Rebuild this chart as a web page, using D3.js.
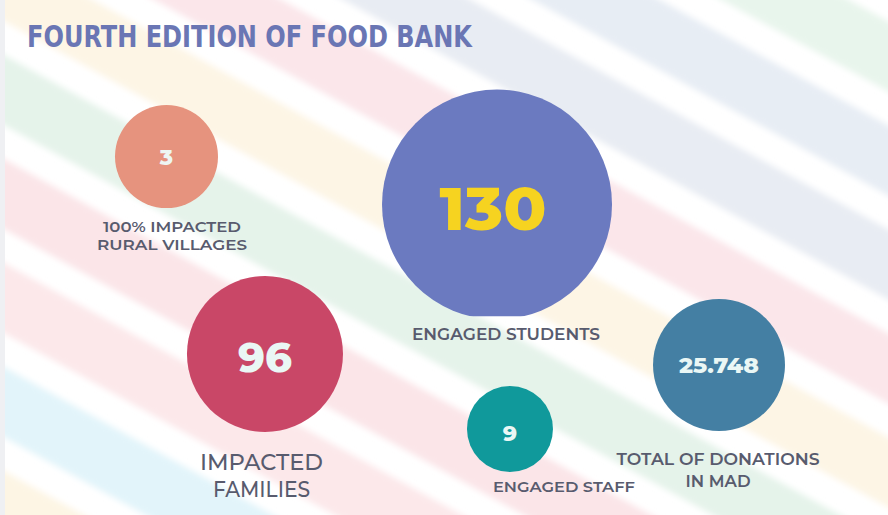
<!DOCTYPE html>
<html>
<head>
<meta charset="utf-8">
<script src="https://cdn.jsdelivr.net/npm/d3@7"></script>
<style>
  html, body { margin: 0; padding: 0; background: #ffffff; }
  svg { display: block; }
</style>
</head>
<body>
<svg id="chart" width="888" height="515"></svg>
<script>
// ---------------- DATA ----------------
const title = "FOURTH EDITION OF FOOD BANK";
const categories = ["100% IMPACTED RURAL VILLAGES", "ENGAGED STUDENTS", "IMPACTED FAMILIES", "ENGAGED STAFF", "TOTAL OF DONATIONS IN MAD"];
const labelLines = [["100% IMPACTED", "RURAL VILLAGES"], ["ENGAGED STUDENTS"], ["IMPACTED", "FAMILIES"], ["ENGAGED STAFF"], ["TOTAL OF DONATIONS", "IN MAD"]];
const values = [3, 130, 96, 9, 25748];
const valueLabels = ["3", "130", "96", "9", "25.748"];

// ---------------- LAYOUT / STYLE ----------------
const W = 888, H = 515;
const bubbleColors = ["#e6937e", "#6b7ac0", "#c94767", "#10999b", "#447fa3"];
const numberColors = ["#eef6f3", "#f6d320", "#eaf7f5", "#eaf7f5", "#eaf7f5"];
// normalized positions (fractions of the canvas)
const layout = [
  { cx: 0.1875, cy: 0.304, r: 51.5, cut: null, numY: 165, numSize: 22, numLen: null, labX: 0.1937, labY: [232, 250], labSize: 14, labLen: [138, 150] },
  { cx: 0.5597, cy: 0.397, r: 115, cut: 0.614, numY: 230, numSize: 60, numLen: 107, labX: 0.5698, labY: [340], labSize: 15.5, labLen: [188] },
  { cx: 0.2984, cy: 0.6874, r: 78, cut: null, numY: 372, numSize: 42, numLen: 54, labX: 0.2945, labY: [470, 497], labSize: 23, labLen: [123, 97] },
  { cx: 0.5743, cy: 0.833, r: 43, cut: null, numY: 441, numSize: 22, numLen: null, labX: 0.6351, labY: [492], labSize: 15, labLen: [142] },
  { cx: 0.8097, cy: 0.7087, r: 66, cut: null, numY: 373, numSize: 22, numLen: 80, labX: 0.8086, labY: [465, 487], labSize: 15.5, labLen: [203, 65] }
];
const stripeColors = {
  "-7": "#eaf1f6", "-6": "#e2f1f9", "-5": "#e8f5ec", "-4": "#e7edf4", "-3": "#e8ecf3",
  "-2": "#fbe6ea", "-1": "#fdf5e5", "0": "#e5f3ea", "1": "#fbe5e8", "2": "#fce8ea",
  "3": "#e2f4fa", "4": "#fdf5e4", "5": "#e8f5ec"
};

const x = d3.scaleLinear().domain([0, 1]).range([0, W]);
const y = d3.scaleLinear().domain([0, 1]).range([0, H]);

const svg = d3.select("#chart");
const defs = svg.append("defs");
defs.append("filter").attr("id", "soft").attr("x", "-5%").attr("y", "-5%").attr("width", "110%").attr("height", "110%")
  .append("feGaussianBlur").attr("stdDeviation", 3);

svg.append("rect").attr("width", W).attr("height", H).attr("fill", "#ffffff");

// ---------------- BACKGROUND STRIPES ----------------
const slope = 0.55, period = 104, band = 70, start = 53;
const stripes = d3.range(-7, 6);
svg.append("g").attr("filter", "url(#soft)")
  .selectAll("path").data(stripes).join("path")
  .attr("d", k => {
    const c0 = start + k * period, c1 = c0 + band;
    return d3.line()([[-20, c0 - 20 * slope], [W + 20, c0 + (W + 20) * slope], [W + 20, c1 + (W + 20) * slope], [-20, c1 - 20 * slope]]) + "Z";
  })
  .attr("fill", k => stripeColors[String(k)]);

// faint left edge
svg.append("rect").attr("x", 0).attr("y", 0).attr("width", 5).attr("height", H).attr("fill", "#eff0f3");

// ---------------- TITLE ----------------
svg.append("text")
  .attr("x", 27).attr("y", 47)
  .attr("font-family", "'DejaVu Sans Condensed', 'Liberation Sans Narrow', 'DejaVu Sans', sans-serif")
  .attr("font-stretch", "condensed")
  .attr("font-weight", 700)
  .attr("font-size", 30)
  .attr("fill", "#6a76b4")
  .attr("textLength", 445).attr("lengthAdjust", "spacingAndGlyphs")
  .text(title);

// ---------------- BUBBLES ----------------
const data = categories.map((c, i) => ({ cat: c, value: values[i], label: valueLabels[i], lines: labelLines[i], ...layout[i], color: bubbleColors[i], numColor: numberColors[i], idx: i }));

data.forEach(d => {
  if (d.cut) {
    defs.append("clipPath").attr("id", "cut" + d.idx)
      .append("rect").attr("x", 0).attr("y", 0).attr("width", W).attr("height", y(d.cut));
  }
});

const g = svg.append("g");
g.selectAll("circle").data(data).join("circle")
  .attr("cx", d => x(d.cx)).attr("cy", d => y(d.cy)).attr("r", d => d.r)
  .attr("clip-path", d => d.cut ? `url(#cut${d.idx})` : null)
  .attr("fill", d => d.color);

g.selectAll("text.num").data(data).join("text")
  .attr("class", "num")
  .attr("x", d => x(d.cx) - (d.r > 100 ? 4 : 0)).attr("y", d => d.numY)
  .attr("text-anchor", "middle")
  .attr("font-family", "Montserrat, 'Open Sans', Inter, sans-serif")
  .attr("font-weight", 800)
  .attr("font-size", d => d.numSize)
  .attr("fill", d => d.numColor)
  .each(function (d) { if (d.numLen) d3.select(this).attr("textLength", d.numLen).attr("lengthAdjust", "spacingAndGlyphs"); })
  .text(d => d.label);

// ---------------- LABELS ----------------
data.forEach(d => {
  d.lines.forEach((line, j) => {
    g.append("text")
      .attr("x", x(d.labX)).attr("y", d.labY[j])
      .attr("text-anchor", "middle")
      .attr("font-family", "Montserrat, 'Open Sans', Lato, sans-serif")
      .attr("font-weight", d.labSize > 20 ? 500 : 600)
      .attr("font-size", d.labSize)
      .attr("fill", "#585b6e")
      .attr("textLength", d.labLen[j]).attr("lengthAdjust", "spacingAndGlyphs")
      .text(line);
  });
});
</script>
</body>
</html>
